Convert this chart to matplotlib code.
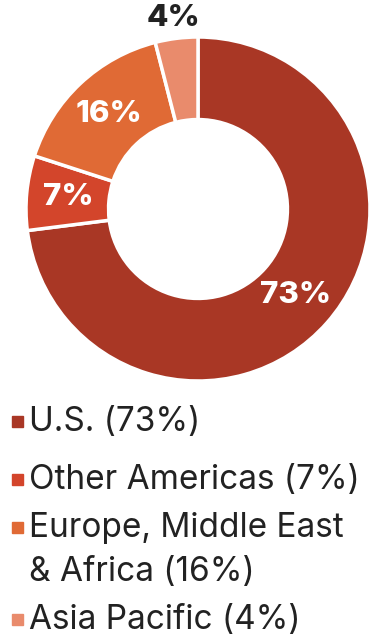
import numpy as np
import matplotlib.pyplot as plt
from matplotlib.patches import Rectangle

regions = ['U.S.', 'Other Americas', 'Europe, Middle East\n& Africa', 'Asia Pacific']
shares = [73, 7, 16, 4]
colors = ['#A93725', '#D3452B', '#E06A35', '#E98B6C']

W, H = 372, 643
fig = plt.figure(figsize=(W / 100, H / 100), dpi=100)
plt.rcParams['font.family'] = ['Inter', 'DejaVu Sans']

# donut: center (198, 209) from top, radius 172 px
cx, cy, R = 198, 209, 172
ax = fig.add_axes([(cx - R) / W, (H - cy - R) / H, 2 * R / W, 2 * R / H])
wedges, _ = ax.pie(shares, colors=colors, startangle=90, counterclock=False,
                   radius=1, wedgeprops=dict(width=0.48, edgecolor='white', linewidth=2.5))
ax.set_xlim(-1, 1)
ax.set_ylim(-1, 1)
ax.set_aspect('equal')
ax.axis('off')

cum = np.cumsum([0] + shares[:-1])
for i, (s, c0) in enumerate(zip(shares, cum)):
    ang = np.deg2rad(90 - (c0 + s / 2) / 100 * 360)
    if s < 5:
        r, col = 1.12, '#222222'
    else:
        r, col = 0.76, 'white'
    ax.text(r * np.cos(ang), r * np.sin(ang), '%d%%' % s, ha='center', va='center',
            fontsize=22.5, fontweight='heavy', color=col, clip_on=False)

# legend
y_rows = [422, 480, 528, 620]
for name, s, col, yp in zip(regions, shares, colors, y_rows):
    fig.add_artist(Rectangle((12 / W, 1 - (yp + 5) / H), 11 / W, 11 / H,
                             transform=fig.transFigure, color=col))
    lines = (name + ' (%d%%)' % s).split('\n')
    for k, ln in enumerate(lines):
        fig.text(29 / W, 1 - (yp + 44 * k) / H, ln, ha='left', va='center',
                 fontsize=24, color='#222222')

fig.savefig('out.png', dpi=100)
